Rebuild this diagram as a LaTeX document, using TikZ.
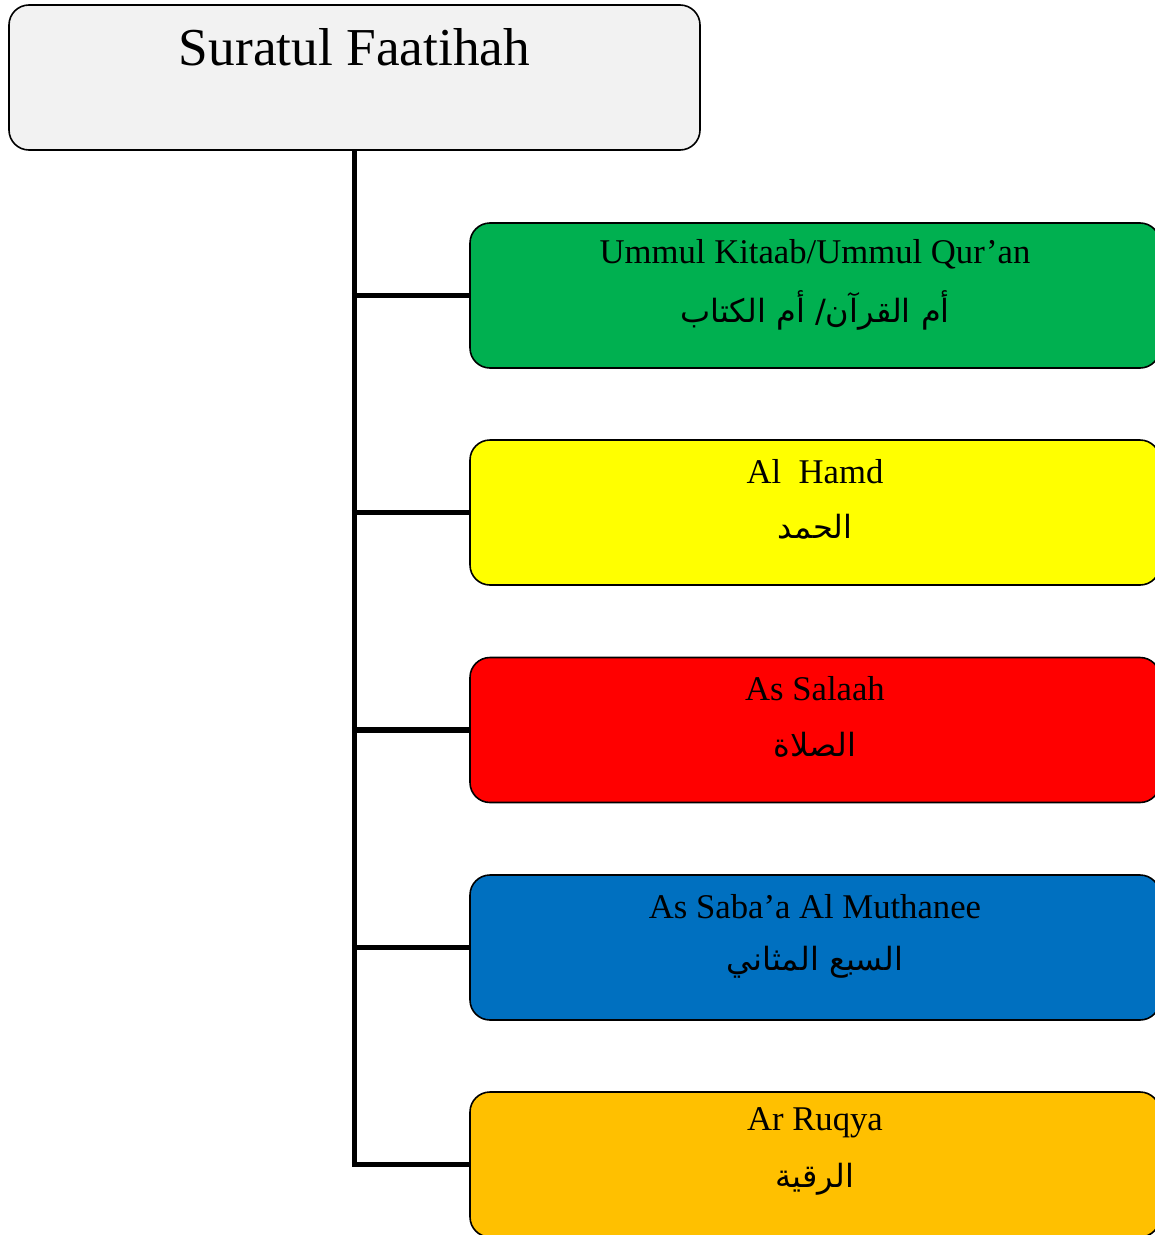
\documentclass[tikz,border=0pt]{standalone}
\usepackage{fontspec}
\setmainfont{Liberation Serif}
\newfontfamily\arabicfont[Script=Arabic]{DejaVu Sans}
\TeXXeTstate=1
\definecolor{topgray}{HTML}{F2F2F2}
\definecolor{cgreen}{HTML}{00B050}
\definecolor{cyellow}{HTML}{FFFF00}
\definecolor{cred}{HTML}{FF0000}
\definecolor{cblue}{HTML}{0070C0}
\definecolor{corange}{HTML}{FFC000}
\tikzset{
  rbox/.style={draw=black, line width=1.2pt, rounded corners=15pt, minimum width=517.5pt, minimum height=108.75pt, inner sep=0pt},
  entext/.style={font=\fontsize{26}{30}\selectfont, inner sep=0pt},
  artext/.style={font=\arabicfont\fontsize{24}{28}\selectfont, inner sep=0pt},
  conn/.style={line width=3.8pt}
}
\begin{document}
\begin{tikzpicture}[x=0.75pt,y=-0.75pt]
\clip (0,0) rectangle (1155,1235);
\fill[white] (0,0) rectangle (1155,1235);
% root
\node[rbox, fill=topgray, minimum width=518.25pt] (root) at (354.5,77.5) {};
\node[inner sep=0pt, font=\fontsize{40}{46}\selectfont] (roottxt) at (354.5,47) {Suratul Faatihah};
% children
\node[rbox, fill=cgreen]  (c1) at (815,295.5) {};
\node[rbox, fill=cyellow] (c2) at (815,512.5) {};
\node[rbox, fill=cred]    (c3) at (815,730) {};
\node[rbox, fill=cblue]   (c4) at (815,947.5) {};
\node[rbox, fill=corange] (c5) at (815,1164.5) {};
\node[entext] (t1) at ([yshift=-24pt]c1.north) {Ummul Kitaab/Ummul Qur’an};
\node[artext] (a1) at ([yshift=-66.5pt]c1.north) {\beginR أم القرآن/ أم الكتاب\endR};
\node[entext] (t2) at ([yshift=-24pt]c2.north) {Al\ \ Hamd};
\node[artext] (a2) at ([yshift=-66pt]c2.north) {\beginR الحمد\endR};
\node[entext] (t3) at ([yshift=-24pt]c3.north) {As Salaah};
\node[artext] (a3) at ([yshift=-66pt]c3.north) {\beginR الصلاة\endR};
\node[entext] (t4) at ([yshift=-24pt]c4.north) {As Saba’a Al Muthanee};
\node[artext] (a4) at ([yshift=-66pt]c4.north) {\beginR السبع المثاني\endR};
\node[entext] (t5) at ([yshift=-24pt]c5.north) {Ar Ruqya};
\node[artext] (a5) at ([yshift=-66pt]c5.north) {\beginR الرقية\endR};
% connectors
\draw[conn] (root.south) -- (root.south |- c5.west);
\foreach \c in {c1,c2,c3,c4,c5}
  \draw[conn] ([xshift=-1.9pt]root.south |- \c.west) -- (\c.west);
\end{tikzpicture}
\end{document}
